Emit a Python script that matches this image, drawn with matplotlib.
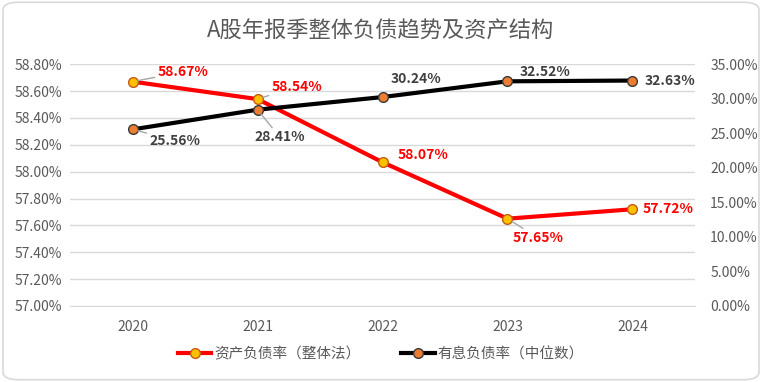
import matplotlib
matplotlib.use("Agg")
import matplotlib.pyplot as plt
from matplotlib.patches import FancyBboxPatch
from matplotlib.ticker import FuncFormatter, MultipleLocator

plt.rcParams['font.family'] = ['Noto Sans CJK SC', 'DejaVu Sans']

years = ["2020", "2021", "2022", "2023", "2024"]
debt_ratio = [58.67, 58.54, 58.07, 57.65, 57.72]
interest_debt = [25.56, 28.41, 30.24, 32.52, 32.63]
title = "A股年报季整体负债趋势及资产结构"
name1 = "资产负债率（整体法）"
name2 = "有息负债率（中位数）"

# label offsets in points (dx, dy), label left edge
off1 = [(18, 7), (10, 9), (11, 5), (4, -14), (7, 0)]
off2 = [(12, -8), (-2, -20), (6, 13), (9, 7), (9, 0)]
lead1 = [True, True, False, True, False]
lead2 = [True, True, False, False, False]

fig = plt.figure(figsize=(7.62, 3.82), dpi=100)
fig.patches.append(FancyBboxPatch((0.004, 0.006), 0.992, 0.988,
                                  boxstyle="round,pad=0,rounding_size=0.02",
                                  transform=fig.transFigure, fc="white",
                                  ec="#d9d9d9", lw=1.2, zorder=-10))
ax = fig.add_axes([0.092, 0.199, 0.82, 0.633])
ax.set_facecolor("none")
ax2 = ax.twinx()

x = list(range(len(years)))
ax.plot(x, debt_ratio, color="#ff0000", lw=3, marker="o", ms=7,
        mfc="#ffc000", mec="#c55a11", mew=1, zorder=5, label=name1)
ax2.plot(x, interest_debt, color="#000000", lw=3, marker="o", ms=7,
         mfc="#ed7d31", mec="#3a3a3a", mew=1, zorder=5, label=name2)

ax.set_xlim(-0.5, len(years) - 0.5)
ax.set_ylim(57.0, 58.8)
ax.yaxis.set_major_locator(MultipleLocator(0.2))
ax.yaxis.set_major_formatter(FuncFormatter(lambda v, p: f"{v:.2f}%"))
ax2.set_ylim(0, 35)
ax2.yaxis.set_major_locator(MultipleLocator(5))
ax2.yaxis.set_major_formatter(FuncFormatter(lambda v, p: f"{v:.2f}%"))
ax.set_xticks(x)
ax.set_xticklabels(years)

ax.grid(axis="y", color="#d9d9d9", lw=1)
ax.set_axisbelow(True)
for a in (ax, ax2):
    for s in a.spines.values():
        s.set_visible(False)
    a.tick_params(length=0, labelsize=10, colors="#595959", pad=6)
ax2.tick_params(axis="y", pad=11)
ax.spines["bottom"].set_visible(True)
ax.spines["bottom"].set_color("#d9d9d9")
ax.tick_params(axis="x", pad=10)

for i, v in enumerate(debt_ratio):
    dx, dy = off1[i]
    ax.annotate(f"{v:.2f}%", (i, v), xytext=(dx, dy), textcoords="offset points",
                color="#ff0000", fontsize=10, fontweight="bold",
                ha="left", va="center", zorder=6,
                arrowprops=dict(arrowstyle="-", color="#a6a6a6", lw=1,
                                shrinkA=0, shrinkB=4) if lead1[i] else None)
for i, v in enumerate(interest_debt):
    dx, dy = off2[i]
    ax2.annotate(f"{v:.2f}%", (i, v), xytext=(dx, dy), textcoords="offset points",
                 color="#404040", fontsize=10, fontweight="bold",
                 ha="left", va="center", zorder=6,
                 arrowprops=dict(arrowstyle="-", color="#a6a6a6", lw=1,
                                 shrinkA=0, shrinkB=4) if lead2[i] else None)

fig.text(0.5, 0.918, title, ha="center", va="center", fontsize=16, color="#595959")

h1, l1 = ax.get_legend_handles_labels()
h2, l2 = ax2.get_legend_handles_labels()
fig.legend(h1 + h2, l1 + l2, loc="center", bbox_to_anchor=(0.5, 0.072), ncol=2,
           frameon=False, fontsize=10.5, labelcolor="#595959", handlelength=2.3,
           columnspacing=2.8, handletextpad=0.2)

fig.savefig("out.png", dpi=100)
